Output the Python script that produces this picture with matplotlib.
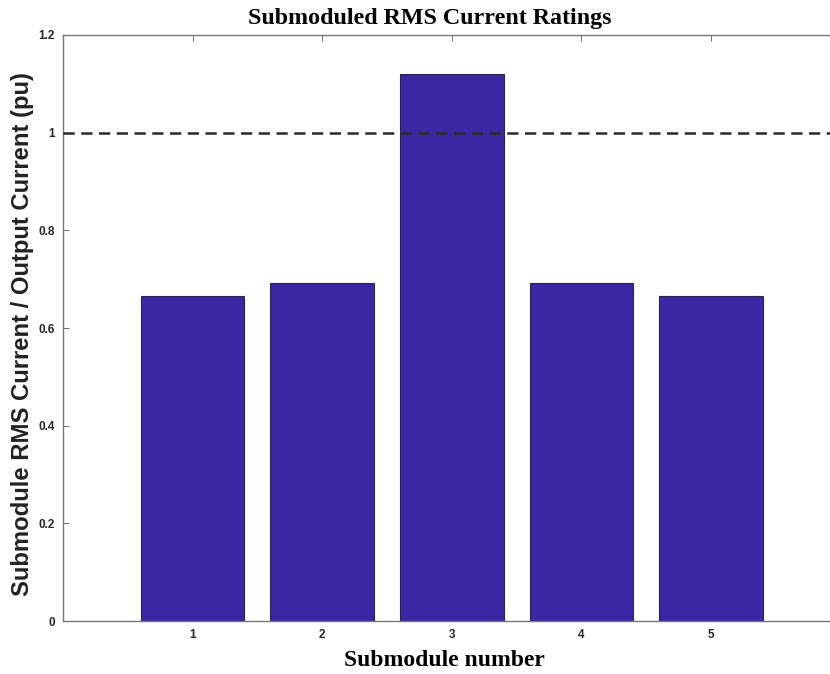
import matplotlib
matplotlib.use("Agg")
import matplotlib.pyplot as plt

submodules = [1, 2, 3, 4, 5]
rms_ratio = [0.665, 0.692, 1.12, 0.692, 0.665]
rated_level = 1.0
yticks = [0, 0.2, 0.4, 0.6, 0.8, 1.0, 1.2]
ytick_labels = ["0", "0.2", "0.4", "0.6", "0.8", "1", "1.2"]

fig = plt.figure(figsize=(8.3, 6.74), dpi=100)
ax = fig.add_axes([0.0759, 0.0786, 0.94, 0.8695])

ax.bar(submodules, rms_ratio, width=0.8, color="#3b27a3", edgecolor="#2a2250", linewidth=0.8, zorder=2)
ax.axhline(rated_level, color="#2a2a2a", linestyle=(0, (4.5, 2.6)), linewidth=1.8, zorder=3)

ax.set_xlim(0, 6.02)
ax.set_ylim(0, 1.2)
ax.set_xticks(submodules)
ax.set_yticks(yticks)
ax.set_yticklabels(ytick_labels)
ax.tick_params(direction="in", top=True, right=True, length=4, width=0.6,
               colors="#555555", labelcolor="#262626", labelsize=8.5, pad=6)
for lbl in ax.get_xticklabels() + ax.get_yticklabels():
    lbl.set_fontweight("bold")
    lbl.set_family("Liberation Sans")
for sp in ax.spines.values():
    sp.set_color("#777777")
    sp.set_linewidth(1.0)

fig.text(0.518, 0.973, "Submoduled RMS Current Ratings", ha="center", va="center",
         family="Liberation Serif", fontweight="bold", fontsize=17.3)
fig.text(0.536, 0.02, "Submodule number", ha="center", va="center",
         family="Liberation Serif", fontweight="bold", fontsize=17)
fig.text(0.027, 0.505, "Submodule RMS Current / Output Current (pu)", ha="center", va="center",
         rotation=90, family="Liberation Sans", fontweight="bold", fontsize=17.2, color="#222222")

fig.savefig("out.png", dpi=100)
